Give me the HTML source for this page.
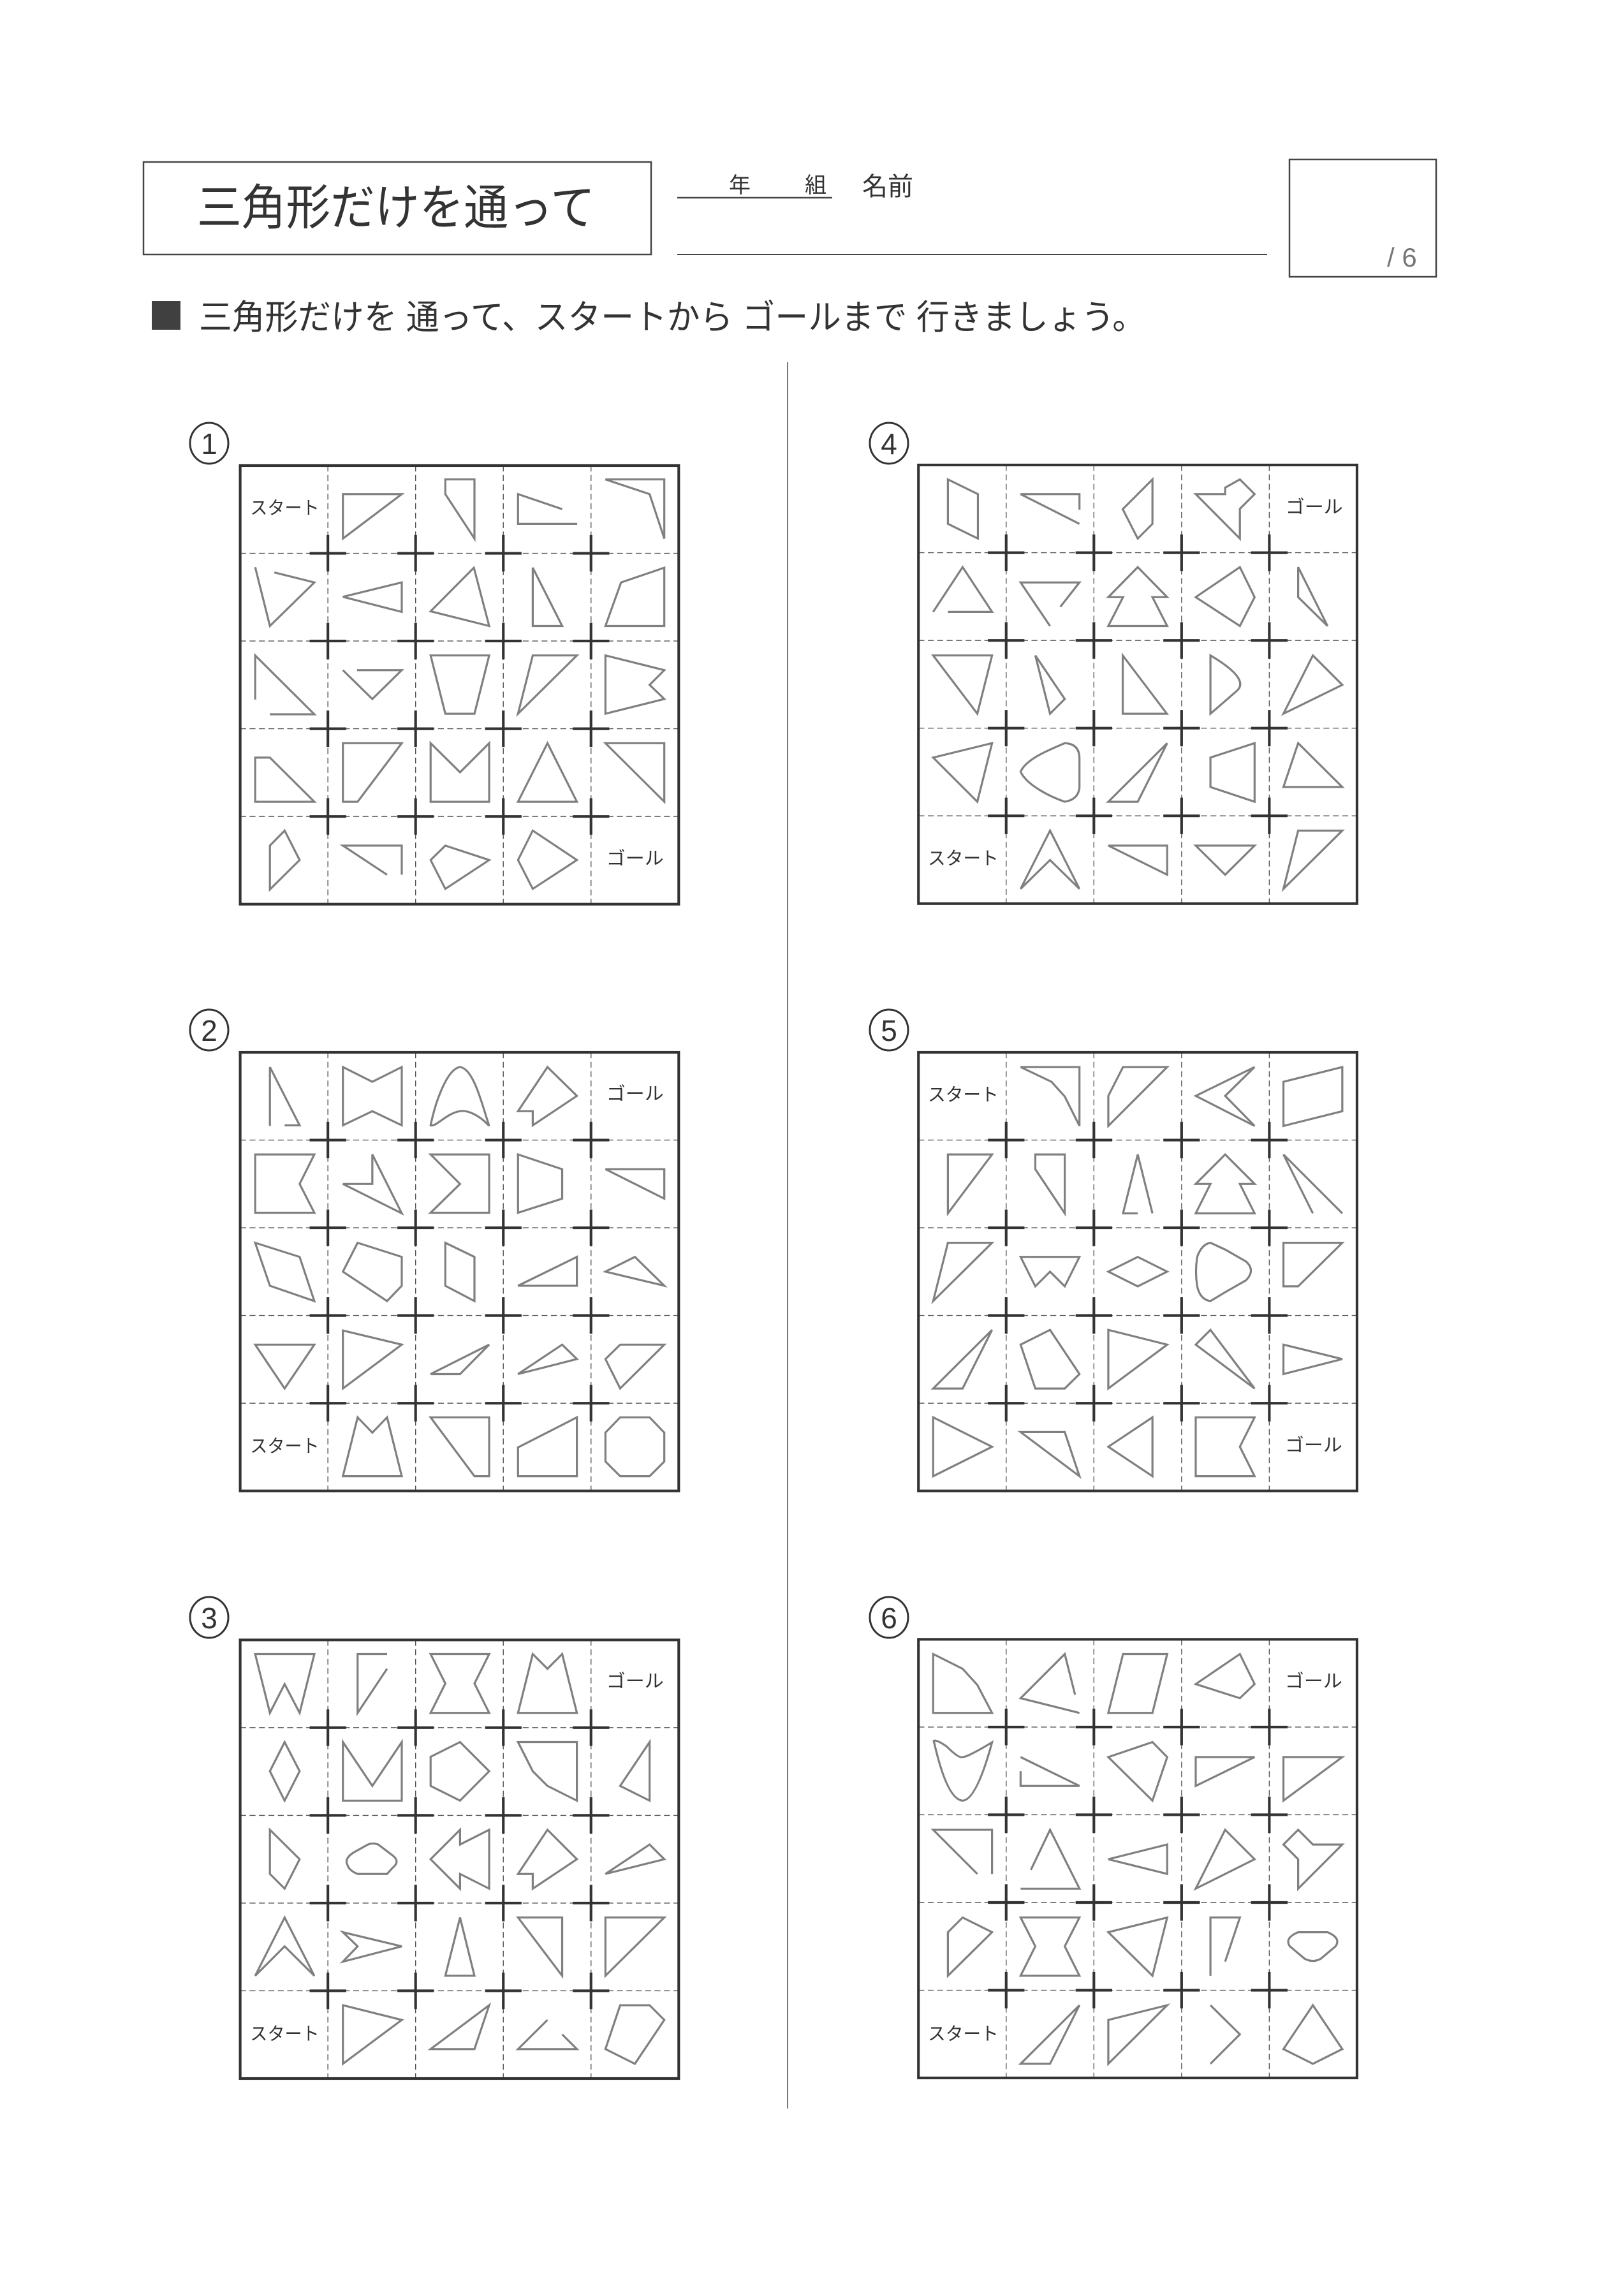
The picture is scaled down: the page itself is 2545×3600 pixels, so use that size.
<!DOCTYPE html>
<html><head><meta charset="utf-8"><style>
html,body{margin:0;padding:0;background:#fff;}
svg{display:block;}
text{font-family:"Liberation Sans","Noto Sans CJK JP",sans-serif;}
</style></head><body>
<svg width="2545" height="3600" viewBox="0 0 2545 3600" xmlns="http://www.w3.org/2000/svg">
<defs>
<g id="frame">
<g stroke="#555" stroke-width="3" stroke-dasharray="20 12" fill="none">
<line x1="298" y1="0" x2="298" y2="1490"/><line x1="596" y1="0" x2="596" y2="1490"/><line x1="894" y1="0" x2="894" y2="1490"/><line x1="1192" y1="0" x2="1192" y2="1490"/>
<line y1="298" x1="0" y2="298" x2="1490"/><line y1="596" x1="0" y2="596" x2="1490"/><line y1="894" x1="0" y2="894" x2="1490"/><line y1="1192" x1="0" y2="1192" x2="1490"/>
</g>
<g stroke="#333" stroke-width="9" fill="none">
<path d="M236,298h124M298,236v124M534,298h124M596,236v124M832,298h124M894,236v124M1130,298h124M1192,236v124"/>
<path d="M236,596h124M298,534v124M534,596h124M596,534v124M832,596h124M894,534v124M1130,596h124M1192,534v124"/>
<path d="M236,894h124M298,832v124M534,894h124M596,832v124M832,894h124M894,832v124M1130,894h124M1192,832v124"/>
<path d="M236,1192h124M298,1130v124M534,1192h124M596,1130v124M832,1192h124M894,1130v124M1130,1192h124M1192,1130v124"/>
</g>
<rect x="0" y="0" width="1490" height="1490" fill="none" stroke="#333" stroke-width="9"/>
</g>
</defs>

<!-- header -->
<rect x="225" y="254" width="796" height="145" fill="none" stroke="#444" stroke-width="2.5"/>
<text x="309" y="352" font-size="76" fill="#333" textLength="624" lengthAdjust="spacingAndGlyphs">三角形だけを通って</text>
<text x="1143" y="302" font-size="34" fill="#333">年</text>
<text x="1262" y="302" font-size="34" fill="#333">組</text>
<text x="1352" y="306" font-size="40" fill="#333">名前</text>
<line x1="1062" y1="310" x2="1305" y2="310" stroke="#444" stroke-width="2.5"/>
<line x1="1062" y1="399" x2="1987" y2="399" stroke="#444" stroke-width="2"/>
<rect x="2022" y="250" width="230" height="184" fill="none" stroke="#444" stroke-width="2.5"/>
<text x="2175" y="418" font-size="42" fill="#777">/ 6</text>
<rect x="238" y="472" width="45" height="45" fill="#404040"/>
<text x="312" y="516" font-size="54" fill="#333" textLength="1484" lengthAdjust="spacingAndGlyphs">三角形だけを 通って、スタートから ゴールまで 行きましょう。</text>
<line x1="1235" y1="568" x2="1235" y2="3306" stroke="#777" stroke-width="2"/>

<!-- circled numbers -->
<g fill="none" stroke="#333" stroke-width="3">
<ellipse cx="328" cy="695" rx="30" ry="32"/><ellipse cx="1394" cy="695" rx="30" ry="32"/>
<ellipse cx="328" cy="1615" rx="30" ry="32"/><ellipse cx="1394" cy="1615" rx="30" ry="32"/>
<ellipse cx="328" cy="2536" rx="30" ry="32"/><ellipse cx="1394" cy="2536" rx="30" ry="32"/>
</g>
<g font-size="46" fill="#333" text-anchor="middle">
<text x="328" y="712">1</text><text x="1394" y="712">4</text>
<text x="328" y="1632">2</text><text x="1394" y="1632">5</text>
<text x="328" y="2553">3</text><text x="1394" y="2553">6</text>
</g>

<!-- GRID 1 -->
<g transform="translate(360,700) scale(0.46154)">
<use href="#frame" x="36" y="65"/>
<g fill="none" stroke="#808080" stroke-width="7" stroke-linejoin="miter">
<polygon points="385,162 585,162 385,313"/>
<polygon points="733,112 832,112 832,313 733,162"/>
<polyline points="1130,213 980,162 980,263 1181,263"/>
<polygon points="1277,112 1477,112 1477,313 1427,162"/>
<polyline points="152,428 288,462 137,610 87,410"/>
<polygon points="385,511 585,462 585,562"/>
<polygon points="830,412 882,610 683,560"/>
<polygon points="1030,412 1130,610 1030,610"/>
<polygon points="1330,462 1477,412 1477,610 1277,610"/>
<polyline points="87,860 87,710 288,910 137,910"/>
<polyline points="433,760 585,760 485,858 385,760"/>
<polygon points="683,710 882,710 832,908 733,908"/>
<polygon points="1030,710 1180,710 980,908"/>
<polygon points="1277,710 1477,760 1427,810 1477,858 1277,908"/>
<polygon points="87,1057 137,1057 288,1207 87,1207"/>
<polygon points="385,1008 585,1008 435,1207 385,1207"/>
<polygon points="683,1008 783,1107 882,1008 882,1207 683,1207"/>
<polygon points="1080,1008 1180,1207 980,1207"/>
<polygon points="1277,1008 1477,1008 1477,1207"/>
<polygon points="137,1356 187,1305 238,1405 137,1505"/>
<polyline points="535,1455 385,1356 585,1356 585,1455"/>
<polygon points="733,1356 882,1405 733,1503 683,1405"/>
<polygon points="1030,1305 1180,1405 1030,1503 980,1405"/>
</g>
<g font-size="62" fill="#333">
<text x="70" y="230" textLength="235" lengthAdjust="spacingAndGlyphs">スタート</text>
<text x="1280" y="1420" textLength="195" lengthAdjust="spacingAndGlyphs">ゴール</text>
</g>
</g>

<!-- GRID 4 -->
<g transform="translate(1425,700) scale(0.46154)">
<use href="#frame" x="33" y="63"/>
<g fill="none" stroke="#808080" stroke-width="7">
<polygon points="133,112 235,162 235,313 133,263"/>
<polyline points="580,215 580,162 380,162 580,263"/>
<polygon points="828,112 828,263 778,313 727,213"/>
<polygon points="975,162 1075,162 1075,140 1125,112 1175,162 1125,212 1125,313"/>
<polyline points="133,562 283,562 183,410 83,562"/>
<polyline points="515,545 580,462 380,462 480,610"/>
<polygon points="778,410 878,512 828,512 878,610 678,610 728,512 678,512"/>
<polygon points="975,512 1125,410 1175,512 1125,610"/>
<polygon points="1323,410 1423,610 1323,512"/>
<polygon points="83,710 283,710 233,908"/>
<polygon points="430,710 530,858 480,908"/>
<polygon points="727,710 877,908 727,908"/>
<path d="M1025,710 Q1160,790 1115,830 L1025,908 Z"/>
<polygon points="1373,710 1473,810 1273,908"/>
<polygon points="83,1057 283,1008 233,1207"/>
<path d="M380,1105 C400,1060 480,1030 530,1008 Q580,1010 580,1060 L580,1160 Q575,1200 530,1207 C480,1190 400,1150 380,1105 Z"/>
<polygon points="878,1008 778,1207 678,1207"/>
<polygon points="1025,1057 1175,1008 1175,1207 1025,1157"/>
<polygon points="1323,1008 1473,1157 1273,1157"/>
<polygon points="480,1305 580,1503 480,1405 380,1503"/>
<polygon points="678,1356 878,1356 878,1455"/>
<polygon points="975,1356 1175,1356 1075,1455"/>
<polygon points="1323,1305 1473,1305 1273,1503"/>
</g>
<g font-size="62" fill="#333">
<text x="1280" y="226" textLength="195" lengthAdjust="spacingAndGlyphs">ゴール</text>
<text x="65" y="1420" textLength="240" lengthAdjust="spacingAndGlyphs">スタート</text>
</g>
</g>

<!-- GRID 2 -->
<g transform="translate(360,1620) scale(0.46154)">
<use href="#frame" x="36" y="65"/>
<g fill="none" stroke="#808080" stroke-width="7">
<polyline points="187,313 238,313 137,115 137,315"/>
<polygon points="385,115 485,165 585,115 585,313 485,265 385,313"/>
<path d="M683,313 C700,230 740,120 783,115 C830,120 860,250 882,315 C850,280 810,260 783,265 C740,270 700,320 683,313 Z"/>
<polygon points="1080,115 1180,213 1030,313 1030,265 980,265"/>
<polygon points="87,412 288,412 238,512 288,610 87,610"/>
<polygon points="485,412 585,612 385,512 485,512"/>
<polygon points="683,412 882,412 882,610 683,610 783,512"/>
<polygon points="980,412 1130,462 1130,562 980,610"/>
<polygon points="1277,462 1477,462 1477,562"/>
<polygon points="87,712 238,760 288,910 137,858"/>
<polygon points="435,712 585,760 585,858 535,910 385,810"/>
<polygon points="733,712 832,760 832,910 733,858"/>
<polygon points="980,858 1180,760 1180,858"/>
<polygon points="1277,810 1377,760 1477,858"/>
<polygon points="87,1058 288,1058 187,1207"/>
<polygon points="385,1010 585,1058 385,1207"/>
<polygon points="683,1158 882,1058 783,1158"/>
<polygon points="980,1158 1130,1058 1180,1107"/>
<polygon points="1327,1058 1477,1058 1327,1207 1277,1107"/>
<polygon points="385,1505 435,1305 485,1357 535,1305 585,1505"/>
<polygon points="683,1305 882,1305 882,1505 832,1505"/>
<polygon points="980,1407 1180,1305 1180,1505 980,1505"/>
<polygon points="1327,1305 1427,1305 1477,1357 1477,1455 1427,1505 1327,1505 1277,1455 1277,1357"/>
</g>
<g font-size="62" fill="#333">
<text x="1280" y="226" textLength="195" lengthAdjust="spacingAndGlyphs">ゴール</text>
<text x="70" y="1423" textLength="235" lengthAdjust="spacingAndGlyphs">スタート</text>
</g>
</g>

<!-- GRID 5 -->
<g transform="translate(1425,1620) scale(0.46154)">
<use href="#frame" x="33" y="65"/>
<g fill="none" stroke="#808080" stroke-width="7">
<polygon points="380,115 580,115 580,315 530,215 485,165"/>
<polygon points="728,115 878,115 678,315 678,213"/>
<polygon points="975,213 1175,115 1075,213 1175,315"/>
<polygon points="1273,165 1473,115 1473,265 1273,315"/>
<polygon points="133,412 283,412 133,612"/>
<polygon points="430,412 530,412 530,612 430,462"/>
<polyline points="778,612 728,612 778,412 828,612"/>
<polygon points="1075,412 1175,512 1125,512 1175,612 975,612 1025,512 975,512"/>
<polyline points="1373,612 1273,412 1473,612"/>
<polygon points="133,712 283,712 83,910"/>
<polygon points="380,760 580,760 530,860 480,810 430,860"/>
<polygon points="678,810 778,760 878,810 778,860"/>
<path d="M1025,712 L1075,735 L1145,775 Q1180,805 1145,840 L1075,880 L1025,910 Q990,905 980,860 Q972,810 980,760 Q995,717 1025,712 Z"/>
<polygon points="1273,712 1473,712 1323,860 1273,860"/>
<polygon points="283,1008 183,1207 83,1207"/>
<polygon points="380,1058 480,1008 580,1158 530,1207 430,1207"/>
<polygon points="678,1008 878,1058 678,1207"/>
<polygon points="1025,1008 1175,1207 975,1058"/>
<polygon points="1273,1058 1473,1107 1273,1158"/>
<polygon points="83,1305 283,1405 83,1505"/>
<polygon points="380,1355 530,1355 580,1505"/>
<polygon points="828,1305 828,1505 678,1405"/>
<polygon points="975,1305 1175,1305 1125,1405 1175,1505 975,1505"/>
</g>
<g font-size="62" fill="#333">
<text x="65" y="230" textLength="240" lengthAdjust="spacingAndGlyphs">スタート</text>
<text x="1278" y="1420" textLength="195" lengthAdjust="spacingAndGlyphs">ゴール</text>
</g>
</g>

<!-- GRID 3 -->
<g transform="translate(360,2545) scale(0.46154)">
<use href="#frame" x="36" y="57"/>
<g fill="none" stroke="#808080" stroke-width="7">
<polygon points="87,105 288,105 238,305 187,207 137,305"/>
<polyline points="535,105 435,105 435,305 535,155"/>
<polygon points="683,105 882,105 832,205 882,305 683,305 733,205"/>
<polygon points="1030,105 1080,155 1130,105 1180,305 980,305"/>
<polygon points="187,404 238,503 187,603 137,503"/>
<polygon points="385,404 485,553 585,404 585,603 385,603"/>
<polygon points="683,454 783,404 882,503 783,603 683,553"/>
<polygon points="980,404 1180,404 1180,603 1080,553 1030,503"/>
<polygon points="1427,404 1427,603 1327,553"/>
<polygon points="137,702 238,802 187,902 137,852"/>
<path d="M400,820 Q390,800 420,780 L470,752 Q487,745 505,752 L555,790 Q580,810 555,830 L535,852 L435,852 Q405,840 400,820 Z"/>
<polygon points="683,802 783,702 783,752 882,702 882,902 783,852 783,902"/>
<polygon points="1080,702 1180,802 1030,902 1030,852 980,852"/>
<polygon points="1277,852 1427,752 1477,802"/>
<polygon points="187,1000 288,1198 187,1098 87,1198"/>
<polygon points="385,1050 585,1098 385,1150 435,1098"/>
<polygon points="783,1000 832,1198 733,1198"/>
<polygon points="980,1000 1130,1000 1130,1198"/>
<polygon points="1277,1000 1477,1000 1277,1198"/>
<polygon points="385,1298 585,1348 385,1497"/>
<polygon points="882,1298 832,1447 683,1447"/>
<polyline points="1080,1348 980,1447 1180,1447 1130,1397"/>
<polygon points="1327,1298 1427,1298 1477,1348 1377,1497 1277,1447"/>
</g>
<g font-size="62" fill="#333">
<text x="1280" y="218" textLength="195" lengthAdjust="spacingAndGlyphs">ゴール</text>
<text x="70" y="1416" textLength="235" lengthAdjust="spacingAndGlyphs">スタート</text>
</g>
</g>

<!-- GRID 6 -->
<g transform="translate(1425,2545) scale(0.46154)">
<use href="#frame" x="33" y="55"/>
<g fill="none" stroke="#808080" stroke-width="7">
<polygon points="83,105 183,155 233,210 283,305 83,305"/>
<polyline points="565,243 530,105 380,255 580,305"/>
<polygon points="728,105 878,105 828,305 678,305"/>
<polygon points="975,207 1125,105 1175,207 1125,255"/>
<path d="M85,400 Q95,395 130,420 Q170,460 183,455 Q200,455 283,405 Q230,600 183,603 Q130,600 85,400 Z"/>
<polyline points="380,503 380,553 580,553 380,455"/>
<polygon points="678,455 828,404 878,455 828,603"/>
<polygon points="975,455 1175,455 975,553"/>
<polygon points="1273,455 1473,455 1273,603"/>
<polyline points="233,852 83,702 283,702 283,852"/>
<polyline points="415,838 480,702 580,902 380,902"/>
<polygon points="678,802 878,752 878,852"/>
<polygon points="1075,702 1175,802 975,902"/>
<polygon points="1323,702 1373,752 1473,752 1323,902 1323,802 1273,752"/>
<polygon points="183,1000 283,1050 133,1198 133,1050"/>
<polygon points="380,1000 580,1000 530,1098 580,1198 380,1198 430,1098"/>
<polygon points="678,1050 878,1000 828,1198"/>
<polyline points="1025,1198 1025,1000 1125,1000 1075,1150"/>
<path d="M1323,1050 L1423,1050 Q1470,1070 1450,1098 L1400,1140 Q1373,1155 1345,1140 L1295,1098 Q1275,1070 1323,1050 Z"/>
<polygon points="580,1298 480,1497 380,1497"/>
<polygon points="678,1348 878,1298 678,1497"/>
<polyline points="1025,1298 1125,1397 1025,1497"/>
<polygon points="1373,1298 1473,1447 1373,1497 1273,1447"/>
</g>
<g font-size="62" fill="#333">
<text x="1278" y="218" textLength="195" lengthAdjust="spacingAndGlyphs">ゴール</text>
<text x="65" y="1416" textLength="240" lengthAdjust="spacingAndGlyphs">スタート</text>
</g>
</g>
</svg>
</body></html>
